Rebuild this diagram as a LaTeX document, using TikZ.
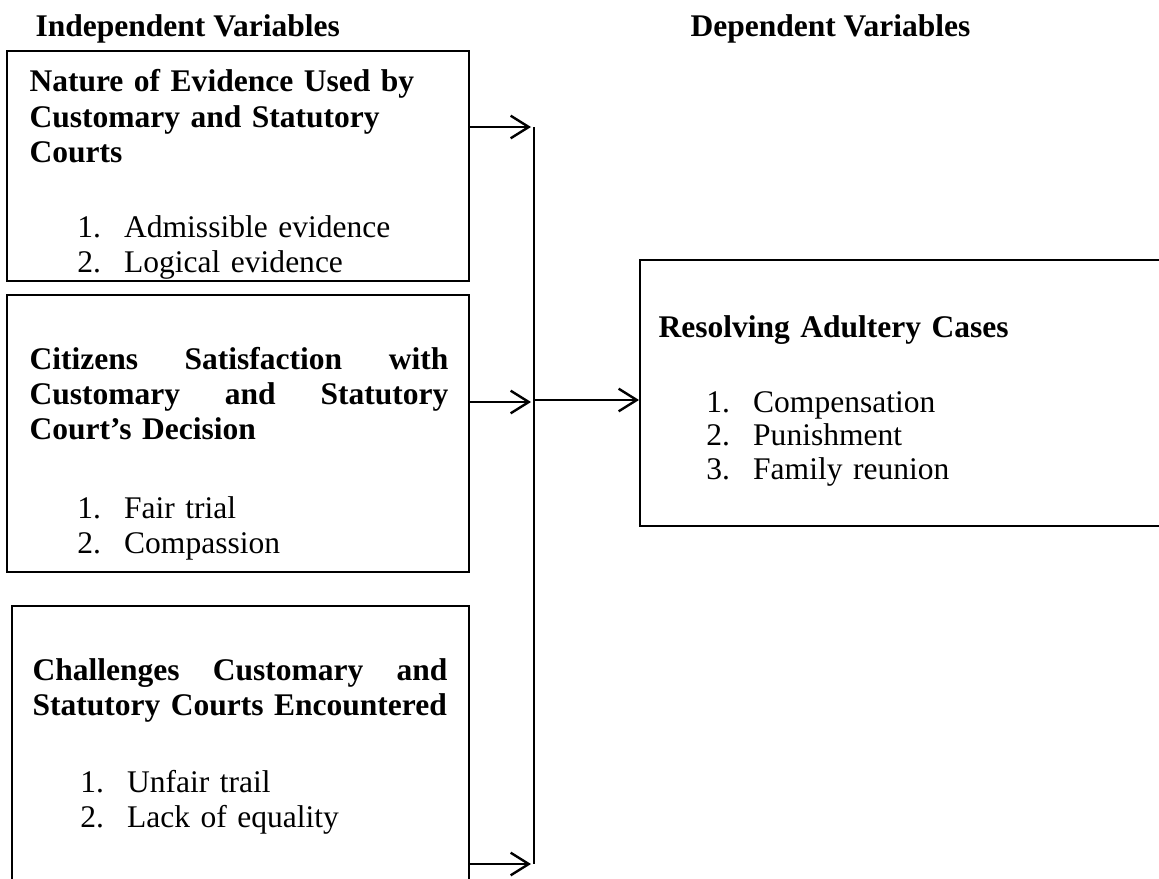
\documentclass[tikz,border=0pt]{standalone}
\usepackage{fontspec}
\setmainfont{Liberation Serif}
\usetikzlibrary{arrows.meta,fit,calc}
\newcommand{\itm}[2]{\hspace*{18pt}\makebox[17.6pt][l]{#1}#2}
\newcommand{\spread}[2]{\hbox to #1{#2}}

\begin{document}
\begin{tikzpicture}[
    x=0.376pt, y=-0.376pt,
    box/.style={draw, line width=0.75pt, inner sep=0pt},
    txt/.style={anchor=base west, inner sep=0pt, align=left, text width=160pt, font=\fontsize{11.85}{13.2}\selectfont},
    head/.style={anchor=base west, inner sep=0pt, font=\fontsize{11.85}{13.2}\selectfont\bfseries},
    conn/.style={line width=0.6pt, -{Straight Barb[length=6.8pt, width=8.5pt, line width=0.9pt]}}
]
  \useasboundingbox (0,0) rectangle (1159,878);
  \clip (0,0) rectangle (1159,878);

  \node[head] (indep) at (35,37) {Independent Variables};
  \node[head] (dep) at (690,37) {Dependent Variables};

  \node[box, fit={(7,51) (469,281)}] (evid) {};
  \node[box, fit={(7,295) (469,572)}] (satis) {};
  \node[box, fit={(12,606) (469,900)}] (chall) {};
  \node[box, fit={(640,260) (1200,526)}] (resol) {};

  \node[txt] (evidtxt) at (29,92) {\textbf{Nature of Evidence Used by}\\
    \textbf{Customary and Statutory}\\ \textbf{Courts}\\[15pt]
    \itm{1.}{Admissible evidence}\\ \itm{2.}{Logical evidence}};
  \node[txt] (satistxt) at (29,369) {\textbf{\spread{157.5pt}{Citizens\hfill Satisfaction\hfill with}}\\
    \textbf{\spread{157.5pt}{Customary\hfill and\hfill Statutory}}\\ \textbf{Court’s Decision}\\[16.5pt]
    \itm{1.}{Fair trial}\\ \itm{2.}{Compassion}};
  \node[txt] (challtxt) at (32,680) {\textbf{\spread{156pt}{Challenges\hfill Customary\hfill and}}\\
    \textbf{Statutory Courts Encountered}\\[15.8pt]
    \itm{1.}{Unfair trail}\\ \itm{2.}{Lack of equality}};
  \node[txt, font=\fontsize{11.85}{12.6}\selectfont] (resoltxt) at (658,337) {\textbf{Resolving Adultery Cases}\\[15.6pt]
    \itm{1.}{Compensation}\\ \itm{2.}{Punishment}\\ \itm{3.}{Family reunion}};

  \coordinate (tap1) at (534,127);
  \coordinate (tap2) at (534,402);
  \coordinate (join) at (534,400);
  \coordinate (tap4) at (534,864);
  \draw[line width=0.6pt] (tap1) -- (tap4);
  \draw[conn] (evid.east |- tap1) -- ($(tap1)+(-3,0)$);
  \draw[conn] (satis.east |- tap2) -- ($(tap2)+(-3,0)$);
  \draw[conn] (chall.east |- tap4) -- ($(tap4)+(-3,0)$);
  \draw[conn] (join) -- (resol.west |- join);
\end{tikzpicture}
\end{document}
